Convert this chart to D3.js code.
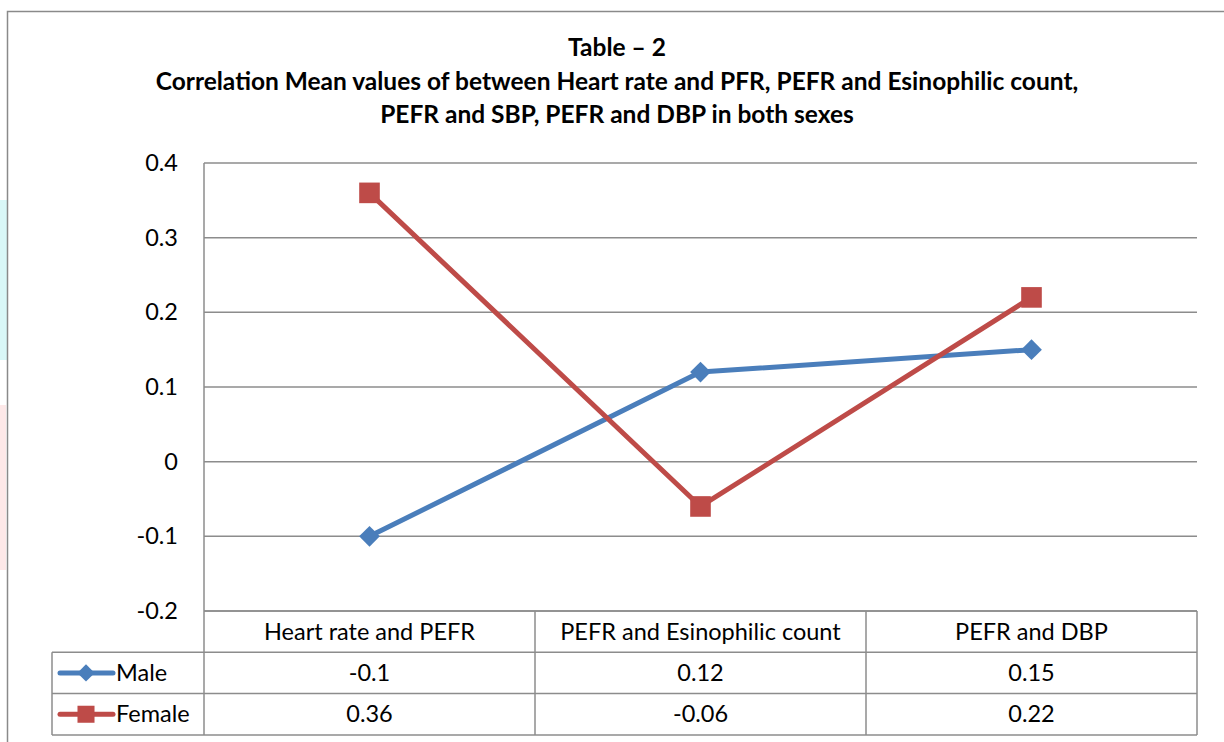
<!DOCTYPE html>
<html>
<head>
<meta charset="utf-8">
<script src="https://cdn.jsdelivr.net/npm/d3@7"></script>
<style>
  body { margin: 0; background: #fff; }
  svg { display: block; font-family: Lato, "Open Sans", sans-serif; }
</style>
</head>
<body>
<div id="chart"></div>
<script>
var categories = ["Heart rate and PEFR", "PEFR and Esinophilic count", "PEFR and DBP"];
var seriesNames = ["Male", "Female"];
var maleValues = [-0.1, 0.12, 0.15];
var femaleValues = [0.36, -0.06, 0.22];
var yTicks = [-0.2, -0.1, 0, 0.1, 0.2, 0.3, 0.4];
var tickLabels = ["-0.2", "-0.1", "0", "0.1", "0.2", "0.3", "0.4"];
var titleLines = [
	"Table \u2013 2",
	"Correlation Mean values of between Heart rate and PFR, PEFR and Esinophilic count,",
	"PEFR and SBP, PEFR and DBP in both sexes"
];

var W = 1224, H = 742;
var plotLeft = 204, plotRight = 1197, plotTop = 163, plotBottom = 611;
var rowH = 41.3;
var legendLeft = 52;
var colors = { Male: "#4a7ebb", Female: "#be4b48" };
var gridColor = "#8c8c8c";
var fontSize = 23.5;

var svg = d3.select("#chart").append("svg")
	.attr("width", W)
	.attr("height", H);

// faint artifacts at the left page edge
svg.append("rect").attr("x", 0).attr("y", 200).attr("width", 7).attr("height", 160).attr("fill", "#d9f7f7");
svg.append("rect").attr("x", 0).attr("y", 405).attr("width", 6).attr("height", 165).attr("fill", "#fde8e8");

// outer chart border
svg.append("rect")
	.attr("x", 7.5).attr("y", 11.5)
	.attr("width", 1230).attr("height", 740)
	.attr("fill", "none")
	.attr("stroke", "#8a8a8a")
	.attr("stroke-width", 1.5);

// title
svg.append("g").selectAll("text")
	.data(titleLines)
	.enter().append("text")
	.attr("x", 617)
	.attr("y", function (d, i) { return [56, 90, 123][i]; })
	.attr("text-anchor", "middle")
	.attr("font-weight", "bold")
	.attr("font-size", 24.5)
	.attr("fill", "#000")
	.text(function (d) { return d; });

var y = d3.scaleLinear().domain([-0.2, 0.4]).range([plotBottom, plotTop]);
var x = d3.scaleBand().domain(categories).range([plotLeft, plotRight]);

// gridlines
svg.append("g").selectAll("line")
	.data(yTicks)
	.enter().append("line")
	.attr("x1", plotLeft).attr("x2", plotRight)
	.attr("y1", function (d) { return y(d); })
	.attr("y2", function (d) { return y(d); })
	.attr("stroke", gridColor)
	.attr("stroke-width", 1.5);

// y axis line
svg.append("line")
	.attr("x1", plotLeft).attr("x2", plotLeft)
	.attr("y1", plotTop).attr("y2", plotBottom)
	.attr("stroke", gridColor).attr("stroke-width", 1.5);

// y tick labels
svg.append("g").selectAll("text")
	.data(yTicks)
	.enter().append("text")
	.attr("x", 178)
	.attr("y", function (d) { return y(d) + 8; })
	.attr("text-anchor", "end")
	.attr("font-size", fontSize)
	.attr("fill", "#000")
	.text(function (d, i) { return tickLabels[i]; });

// data table grid
var tableBottom = plotBottom + rowH * 3;
var table = svg.append("g").attr("stroke", gridColor).attr("stroke-width", 1.5);
[plotBottom, plotBottom + rowH].forEach(function (yy, i) {
	table.append("line")
		.attr("x1", i === 0 ? plotLeft : legendLeft).attr("x2", plotRight)
		.attr("y1", yy).attr("y2", yy);
});
[plotBottom + rowH * 2, tableBottom].forEach(function (yy) {
	table.append("line").attr("x1", legendLeft).attr("x2", plotRight).attr("y1", yy).attr("y2", yy);
});
table.append("line").attr("x1", legendLeft).attr("x2", legendLeft).attr("y1", plotBottom + rowH).attr("y2", tableBottom);
categories.forEach(function (c) {
	table.append("line").attr("x1", x(c)).attr("x2", x(c)).attr("y1", plotBottom).attr("y2", tableBottom);
});
table.append("line").attr("x1", plotRight).attr("x2", plotRight).attr("y1", plotBottom).attr("y2", tableBottom);

// category header
svg.append("g").selectAll("text")
	.data(categories)
	.enter().append("text")
	.attr("x", function (d) { return x(d) + x.bandwidth() / 2; })
	.attr("y", plotBottom + rowH / 2 + 8)
	.attr("text-anchor", "middle")
	.attr("font-size", fontSize)
	.text(function (d) { return d; });

var series = [
	{ name: seriesNames[0], values: maleValues, shape: d3.symbolSquare, size: 215, rotate: 45 },
	{ name: seriesNames[1], values: femaleValues, shape: d3.symbolSquare, size: 425, rotate: 0 }
];

// table values and legend
series.forEach(function (s, si) {
	var rowMid = plotBottom + rowH * (si + 1) + rowH / 2;
	svg.append("g").selectAll("text")
		.data(s.values)
		.enter().append("text")
		.attr("x", function (d, i) { return x(categories[i]) + x.bandwidth() / 2; })
		.attr("y", rowMid + 8)
		.attr("text-anchor", "middle")
		.attr("font-size", fontSize)
		.text(function (d) { return String(d); });

	svg.append("line")
		.attr("x1", 60).attr("x2", 113)
		.attr("y1", rowMid).attr("y2", rowMid)
		.attr("stroke", colors[s.name]).attr("stroke-width", 5)
		.attr("stroke-linecap", "round");
	svg.append("path")
		.attr("d", d3.symbol().type(s.shape).size(si === 0 ? 150 : 290)())
		.attr("transform", "translate(86," + rowMid + ") rotate(" + s.rotate + ")")
		.attr("fill", colors[s.name]);
	svg.append("text")
		.attr("x", 116).attr("y", rowMid + 8)
		.attr("font-size", fontSize)
		.text(s.name);
});

// lines and markers
var line = d3.line()
	.x(function (d, i) { return x(categories[i]) + x.bandwidth() / 2; })
	.y(function (d) { return y(d); });

series.forEach(function (s) {
	svg.append("path")
		.datum(s.values)
		.attr("d", line)
		.attr("fill", "none")
		.attr("stroke", colors[s.name])
		.attr("stroke-width", 5)
		.attr("stroke-linejoin", "round");
	svg.append("g").selectAll("path")
		.data(s.values)
		.enter().append("path")
		.attr("d", d3.symbol().type(s.shape).size(s.size)())
		.attr("transform", function (d, i) {
			return "translate(" + (x(categories[i]) + x.bandwidth() / 2) + "," + y(d) + ") rotate(" + s.rotate + ")";
		})
		.attr("fill", colors[s.name]);
});
</script>
</body>
</html>
